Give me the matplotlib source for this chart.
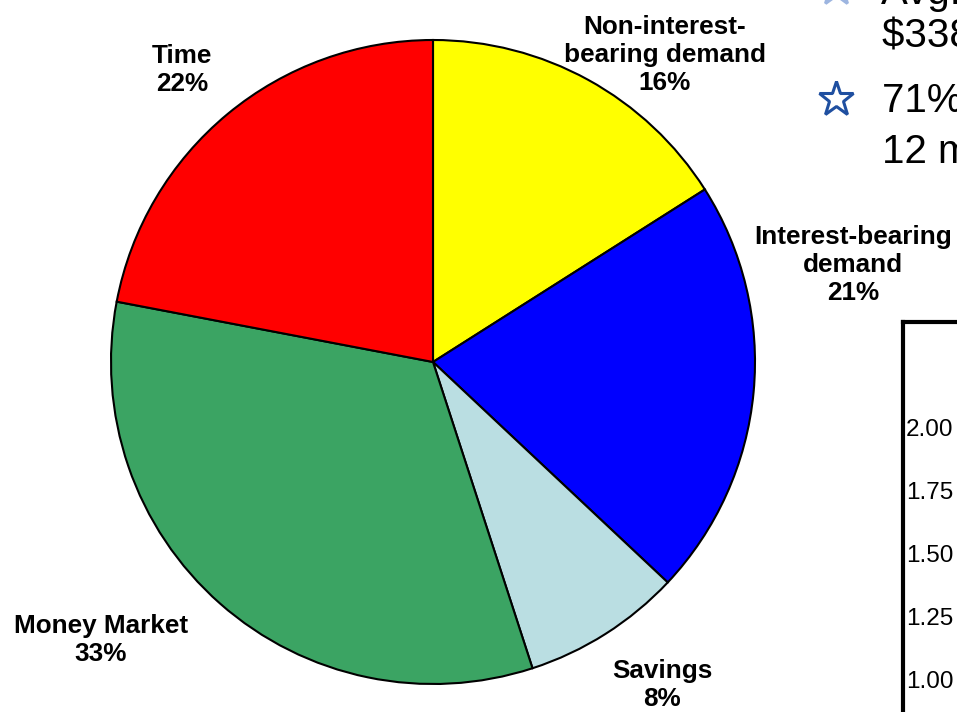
import matplotlib
matplotlib.use("Agg")
import matplotlib.pyplot as plt

# Deposit mix
categories = ["Non-interest-\nbearing demand", "Interest-bearing\ndemand", "Savings",
              "Money Market", "Time"]
shares = [16, 21, 8, 33, 22]
colors = ["#FFFF00", "#0000FF", "#BADEE2", "#3BA463", "#FF0000"]

# Partial yield chart on the right
yield_ticks = [1.00, 1.25, 1.50, 1.75, 2.00]
yield_tick_labels = ["1.00", "1.25", "1.50", "1.75", "2.00"]

# Bullet text
bullet_lines = [["Avg. deposits of", "$338 million"], ["71% growth in", "12 months"]]

W, H = 957, 712
fig = plt.figure(figsize=(W / 100, H / 100), dpi=100)
ax = fig.add_axes([0, 0, 1, 1])

cx, cy, r = 433, H - 362, 322
ax.pie(shares, colors=colors, startangle=90, counterclock=False,
       center=(cx, cy), radius=r, frame=True,
       wedgeprops=dict(edgecolor="black", linewidth=1.5))
ax.set_xlim(0, W)
ax.set_ylim(0, H)
ax.set_aspect("equal")
ax.axis("off")

label_pos = [(665, 55), (853, 265), (662, 685), (101, 640), (182, 70)]
for cat, val, (lx, ly) in zip(categories, shares, label_pos):
    ax.text(lx, H - ly, f"{cat}\n{val}%", ha="center", va="center",
            fontsize=18.8, fontweight="bold", family="Liberation Sans",
            linespacing=1.2, color="black")

# Bullets
txt_kw = dict(fontsize=29, family="Liberation Sans", color="black", ha="left",
              va="baseline")
ax.text(881, H - 4, bullet_lines[0][0], **txt_kw)
ax.text(882, H - 47, bullet_lines[0][1], **txt_kw)
ax.text(882, H - 112, bullet_lines[1][0], **txt_kw)
ax.text(882, H - 163, bullet_lines[1][1], **txt_kw)
for sy, col in ((-12, "#9DB5E0"), (99, "#1F4FA0")):
    ax.plot([836], [H - sy], marker="*", markersize=26, markerfacecolor="white",
            markeredgecolor=col, markeredgewidth=2.2, clip_on=False)

# Right-hand chart frame with y tick labels
top_px = 322
px_per_unit = 253.0
y_top = 2.0 + (427 - top_px) / px_per_unit
y_bot = 1.0 - (H - 680) / px_per_unit
cax = fig.add_axes([903 / W, 0, 0.3, (H - top_px) / H])
cax.set_ylim(y_bot, y_top)
cax.set_xlim(0, 1)
cax.patch.set_alpha(0)
for side in ("right", "bottom"):
    cax.spines[side].set_visible(False)
for side in ("left", "top"):
    cax.spines[side].set_linewidth(3)
cax.set_xticks([])
cax.set_yticks(yield_ticks)
cax.set_yticklabels(yield_tick_labels)
cax.tick_params(axis="y", length=0, pad=-2, labelsize=17.5)
for lab in cax.get_yticklabels():
    lab.set_horizontalalignment("left")
    lab.set_family("Liberation Sans")

fig.savefig("out.png", dpi=100)
